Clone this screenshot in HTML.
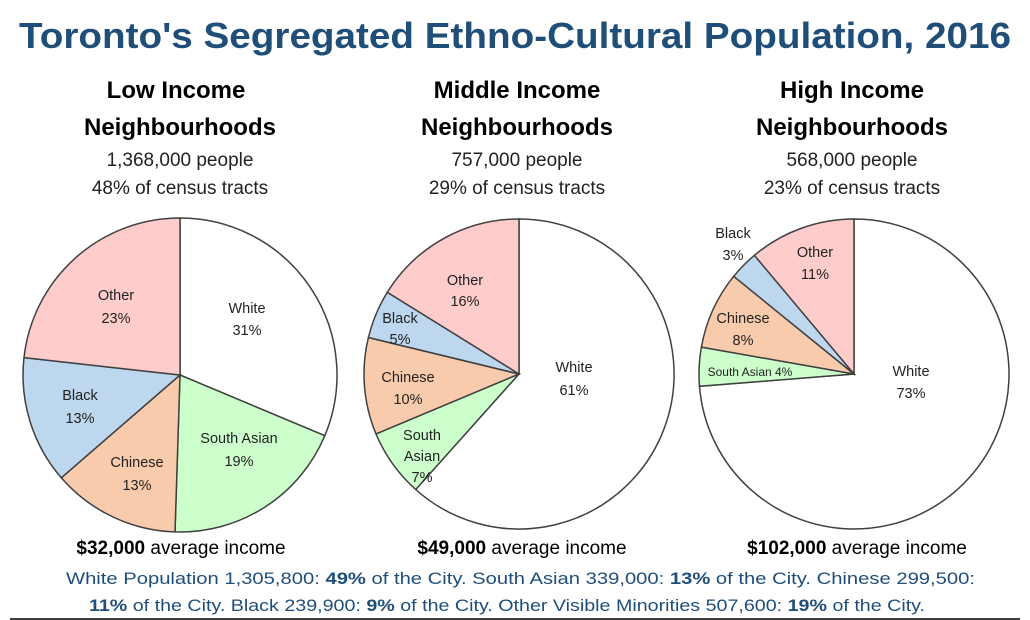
<!DOCTYPE html>
<html><head><meta charset="utf-8"><style>
html,body{margin:0;padding:0;background:#fff;}
svg{display:block;font-family:"Liberation Sans",sans-serif;}
</style></head><body>
<svg id="s" width="1030" height="620" viewBox="0 0 1030 620" xmlns="http://www.w3.org/2000/svg">
<text x="515" y="48" text-anchor="middle" font-size="36" font-weight="bold" fill="#1f4e79" textLength="992" lengthAdjust="spacingAndGlyphs">Toronto's Segregated Ethno-Cultural Population, 2016</text>
<g font-size="24" font-weight="bold" fill="#000" text-anchor="middle">
<text x="176" y="98">Low Income</text><text x="180" y="135">Neighbourhoods</text>
<text x="517" y="98">Middle Income</text><text x="517" y="135">Neighbourhoods</text>
<text x="852" y="98">High Income</text><text x="852" y="135">Neighbourhoods</text>
</g>
<g font-size="19" fill="#222" text-anchor="middle">
<text x="180" y="166">1,368,000 people</text><text x="180" y="194">48% of census tracts</text>
<text x="517" y="166">757,000 people</text><text x="517" y="194">29% of census tracts</text>
<text x="852" y="166">568,000 people</text><text x="852" y="194">23% of census tracts</text>
</g>
<g id="pies"></g>
<g font-size="14.5" fill="#222" text-anchor="middle">
<text x="247" y="313">White</text><text x="247" y="335">31%</text>
<text x="239" y="443">South Asian</text><text x="239" y="466">19%</text>
<text x="137" y="467">Chinese</text><text x="137" y="490">13%</text>
<text x="80" y="400">Black</text><text x="80" y="423">13%</text>
<text x="116" y="300">Other</text><text x="116" y="323">23%</text>
<text x="574" y="372">White</text><text x="574" y="395">61%</text>
<text x="422" y="440">South</text><text x="422" y="461">Asian</text><text x="422" y="482">7%</text>
<text x="408" y="382">Chinese</text><text x="408" y="404">10%</text>
<text x="400" y="323">Black</text><text x="400" y="344">5%</text>
<text x="465" y="285">Other</text><text x="465" y="306">16%</text>
<text x="911" y="376">White</text><text x="911" y="398">73%</text>
<text x="750" y="376" font-size="12">South Asian 4%</text>
<text x="743" y="323">Chinese</text><text x="743" y="345">8%</text>
<text x="733" y="238">Black</text><text x="733" y="260">3%</text>
<text x="815" y="257">Other</text><text x="815" y="279">11%</text>
</g>
<g font-size="19" fill="#000" text-anchor="middle">
<text x="181" y="554"><tspan font-weight="bold">$32,000</tspan> average income</text>
<text x="522" y="554"><tspan font-weight="bold">$49,000</tspan> average income</text>
<text x="857" y="554"><tspan font-weight="bold">$102,000</tspan> average income</text>
</g>
<g font-size="17" fill="#1f4e79">
<text x="66" y="584" textLength="909" lengthAdjust="spacingAndGlyphs">White Population 1,305,800: <tspan font-weight="bold">49%</tspan> of the City. South Asian 339,000: <tspan font-weight="bold">13%</tspan> of the City.  Chinese 299,500:</text>
<text x="89" y="611" textLength="836" lengthAdjust="spacingAndGlyphs"><tspan font-weight="bold">11%</tspan> of the City. Black 239,900: <tspan font-weight="bold">9%</tspan> of the City. Other Visible Minorities 507,600: <tspan font-weight="bold">19%</tspan> of the City.</text>
</g>
<line x1="10" y1="619" x2="1020" y2="619" stroke="#000" stroke-width="1.5"/>
</svg>
<script>
var cols=["#ffffff","#ccffcc","#f8cbad","#bdd7ee","#ffcccc"];
var pies=[[180,375,157,[31,19,13,13,23]],[519,374,155,[61,7,10,5,16]],[854,374,155,[73,4,8,3,11]]];
var g=document.getElementById("pies"),h="";
pies.forEach(function(p){
 var cx=p[0],cy=p[1],r=p[2],a=0,tot=0;
 p[3].forEach(function(v){tot+=v;});
 p[3].forEach(function(v,i){
  var f=v/tot;
  var a1=a+f*2*Math.PI;
  var x0=cx+r*Math.sin(a),y0=cy-r*Math.cos(a),x1=cx+r*Math.sin(a1),y1=cy-r*Math.cos(a1);
  h+='<path d="M'+cx+' '+cy+' L'+x0.toFixed(1)+' '+y0.toFixed(1)+' A'+r+' '+r+' 0 '+(f>0.5?1:0)+' 1 '+x1.toFixed(1)+' '+y1.toFixed(1)+' Z" fill="'+cols[i]+'" stroke="#404040" stroke-width="1.5"/>';
  a=a1;
 });
});
g.innerHTML=h;
</script>
</body></html>
